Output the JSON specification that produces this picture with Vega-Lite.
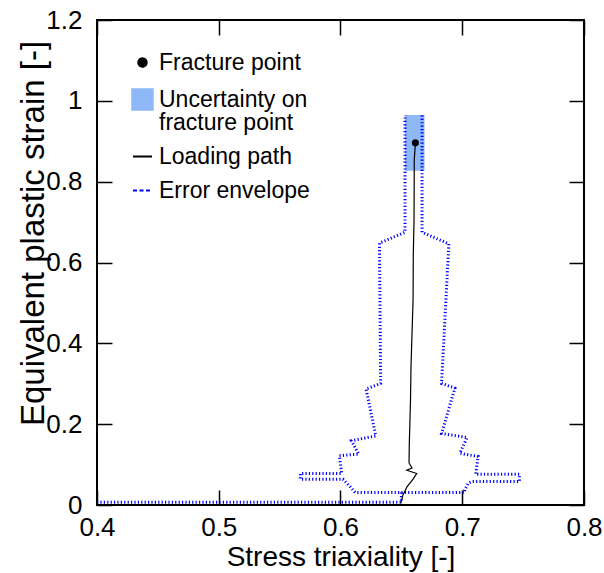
{
  "$schema": "https://vega.github.io/schema/vega-lite/v6.json",
  "width": 487,
  "height": 485,
  "autosize": {"type": "none"},
  "padding": {"left": 97, "top": 20, "right": 20, "bottom": 68},
  "config": {
    "font": "Liberation Sans",
    "view": {"stroke": "black", "strokeWidth": 2},
    "style": {"guide-label": {"lineHeight": 23}},
    "axis": {
      "grid": false,
      "domain": false,
      "tickColor": "black",
      "tickWidth": 1.5,
      "tickSize": -15,
      "labelColor": "black",
      "titleColor": "black",
      "titleFontWeight": "normal",
      "labelFlush": false,
      "labelOverlap": false
    },
    "legend": {
      "orient": "none",
      "legendX": 34,
      "legendY": 31,
      "padding": 0,
      "labelFontSize": 23,
      "labelColor": "black",
      "labelLimit": 300,
      "rowPadding": 10,
      "labelOffset": 5,
      "symbolStrokeWidth": 2,
      "symbolOpacity": 1
    }
  },
  "resolve": {"axis": {"x": "independent", "y": "independent"}},
  "layer": [
    {
      "data": {"values": [{"x": 0.653, "x2": 0.669, "y": 0.827, "y2": 0.965}]},
      "mark": {"type": "rect", "color": "#8fb8f8", "opacity": 1},
      "encoding": {
        "x": {
          "field": "x", "type": "quantitative",
          "scale": {"domain": [0.4, 0.8], "nice": false, "zero": false},
          "axis": {
            "orient": "bottom",
            "values": [0.4, 0.5, 0.6, 0.7, 0.8],
            "format": ".1f",
            "labelFontSize": 26,
            "labelPadding": 24,
            "title": "Stress triaxiality [-]",
            "titleFontSize": 28,
            "titlePadding": 3
          }
        },
        "x2": {"field": "x2"},
        "y": {
          "field": "y", "type": "quantitative",
          "scale": {"domain": [0, 1.2], "nice": false, "zero": false},
          "axis": {
            "orient": "left",
            "values": [0, 0.2, 0.4, 0.6, 0.8, 1, 1.2],
            "format": "~g",
            "labelFontSize": 26,
            "labelPadding": 30,
            "title": "Equivalent plastic strain [-]",
            "titleFontSize": 33,
            "titleX": -64,
            "titleY": 213,
            "titleBaseline": "middle",
            "titleAngle": -90
          }
        },
        "y2": {"field": "y2"}
      }
    },
    {
      "data": {"values": [
        {"side": "L", "i": 0, "x": 0.400, "y": 0.007},
        {"side": "L", "i": 1, "x": 0.650, "y": 0.007},
        {"side": "L", "i": 2, "x": 0.650, "y": 0.031},
        {"side": "L", "i": 3, "x": 0.612, "y": 0.031},
        {"side": "L", "i": 4, "x": 0.608, "y": 0.045},
        {"side": "L", "i": 5, "x": 0.602, "y": 0.064},
        {"side": "L", "i": 6, "x": 0.567, "y": 0.064},
        {"side": "L", "i": 7, "x": 0.567, "y": 0.078},
        {"side": "L", "i": 8, "x": 0.601, "y": 0.078},
        {"side": "L", "i": 9, "x": 0.599, "y": 0.122},
        {"side": "L", "i": 10, "x": 0.615, "y": 0.126},
        {"side": "L", "i": 11, "x": 0.609, "y": 0.159},
        {"side": "L", "i": 12, "x": 0.629, "y": 0.171},
        {"side": "L", "i": 13, "x": 0.621, "y": 0.287},
        {"side": "L", "i": 14, "x": 0.633, "y": 0.301},
        {"side": "L", "i": 15, "x": 0.632, "y": 0.648},
        {"side": "L", "i": 16, "x": 0.653, "y": 0.675},
        {"side": "L", "i": 17, "x": 0.653, "y": 0.965},
        {"side": "R", "i": 0, "x": 0.650, "y": 0.031},
        {"side": "R", "i": 1, "x": 0.702, "y": 0.031},
        {"side": "R", "i": 2, "x": 0.702, "y": 0.037},
        {"side": "R", "i": 3, "x": 0.705, "y": 0.054},
        {"side": "R", "i": 4, "x": 0.708, "y": 0.058},
        {"side": "R", "i": 5, "x": 0.747, "y": 0.058},
        {"side": "R", "i": 6, "x": 0.747, "y": 0.076},
        {"side": "R", "i": 7, "x": 0.711, "y": 0.076},
        {"side": "R", "i": 8, "x": 0.713, "y": 0.120},
        {"side": "R", "i": 9, "x": 0.698, "y": 0.128},
        {"side": "R", "i": 10, "x": 0.704, "y": 0.167},
        {"side": "R", "i": 11, "x": 0.683, "y": 0.177},
        {"side": "R", "i": 12, "x": 0.694, "y": 0.289},
        {"side": "R", "i": 13, "x": 0.683, "y": 0.301},
        {"side": "R", "i": 14, "x": 0.689, "y": 0.646},
        {"side": "R", "i": 15, "x": 0.667, "y": 0.675},
        {"side": "R", "i": 16, "x": 0.667, "y": 0.965}
      ]},
      "mark": {"type": "line", "color": "#0000ff", "strokeWidth": 3, "strokeDash": [1.2, 2.2], "clip": true},
      "encoding": {
        "x": {"field": "x", "type": "quantitative", "scale": {"domain": [0.4, 0.8], "nice": false, "zero": false}, "axis": null},
        "y": {"field": "y", "type": "quantitative", "scale": {"domain": [0, 1.2], "nice": false, "zero": false}, "axis": null},
        "detail": {"field": "side"},
        "order": {"field": "i", "type": "quantitative"}
      }
    },
    {
      "data": {"values": [
        {"i": 0, "x": 0.6495, "y": 0.004},
        {"i": 1, "x": 0.6513, "y": 0.025},
        {"i": 2, "x": 0.6546, "y": 0.045},
        {"i": 3, "x": 0.6596, "y": 0.064},
        {"i": 4, "x": 0.6626, "y": 0.078},
        {"i": 5, "x": 0.6544, "y": 0.086},
        {"i": 6, "x": 0.6587, "y": 0.0915},
        {"i": 7, "x": 0.6563, "y": 0.104},
        {"i": 8, "x": 0.6565, "y": 0.15},
        {"i": 9, "x": 0.6575, "y": 0.26},
        {"i": 10, "x": 0.6579, "y": 0.342},
        {"i": 11, "x": 0.6596, "y": 0.507},
        {"i": 12, "x": 0.6598, "y": 0.623},
        {"i": 13, "x": 0.6604, "y": 0.705},
        {"i": 14, "x": 0.6606, "y": 0.854},
        {"i": 15, "x": 0.6615, "y": 0.896}
      ]},
      "mark": {"type": "line", "color": "black", "strokeWidth": 1.2},
      "encoding": {
        "x": {"field": "x", "type": "quantitative", "scale": {"domain": [0.4, 0.8], "nice": false, "zero": false}, "axis": null},
        "y": {"field": "y", "type": "quantitative", "scale": {"domain": [0, 1.2], "nice": false, "zero": false}, "axis": null},
        "order": {"field": "i", "type": "quantitative"}
      }
    },
    {
      "data": {"values": [{"x": 0.6615, "y": 0.896}]},
      "mark": {"type": "point", "shape": "circle", "filled": true, "color": "black", "size": 50, "opacity": 1},
      "encoding": {
        "x": {
          "field": "x", "type": "quantitative",
          "scale": {"domain": [0.4, 0.8], "nice": false, "zero": false},
          "axis": {"orient": "top", "values": [0.4, 0.5, 0.6, 0.7, 0.8], "labels": false, "title": null}
        },
        "y": {
          "field": "y", "type": "quantitative",
          "scale": {"domain": [0, 1.2], "nice": false, "zero": false},
          "axis": {"orient": "right", "values": [0, 0.2, 0.4, 0.6, 0.8, 1, 1.2], "labels": false, "title": null}
        }
      }
    },
    {
      "data": {"values": [
        {"series": "Fracture point"},
        {"series": "Uncertainty on fracture point"},
        {"series": "Loading path"},
        {"series": "Error envelope"}
      ]},
      "transform": [{"filter": "false"}],
      "mark": {"type": "point", "filled": true, "opacity": 1},
      "encoding": {
        "fill": {
          "field": "series", "type": "nominal",
          "scale": {"domain": ["Fracture point", "Uncertainty on fracture point", "Loading path", "Error envelope"], "range": ["black", "#8fb8f8", "transparent", "transparent"]},
          "legend": {"title": null, "labelExpr": "datum.value == 'Uncertainty on fracture point' ? ['Uncertainty on', 'fracture point'] : datum.value"}
        },
        "stroke": {
          "field": "series", "type": "nominal",
          "scale": {"domain": ["Fracture point", "Uncertainty on fracture point", "Loading path", "Error envelope"], "range": ["black", "#8fb8f8", "black", "#0000ff"]},
          "legend": {"title": null, "labelExpr": "datum.value == 'Uncertainty on fracture point' ? ['Uncertainty on', 'fracture point'] : datum.value"}
        },
        "shape": {
          "field": "series", "type": "nominal",
          "scale": {"domain": ["Fracture point", "Uncertainty on fracture point", "Loading path", "Error envelope"], "range": ["circle", "square", "stroke", "stroke"]},
          "legend": {"title": null, "labelExpr": "datum.value == 'Uncertainty on fracture point' ? ['Uncertainty on', 'fracture point'] : datum.value"}
        },
        "size": {
          "field": "series", "type": "nominal",
          "scale": {"type": "ordinal", "domain": ["Fracture point", "Uncertainty on fracture point", "Loading path", "Error envelope"], "range": [70, 420, 361, 361]},
          "legend": {"title": null, "labelExpr": "datum.value == 'Uncertainty on fracture point' ? ['Uncertainty on', 'fracture point'] : datum.value"}
        },
        "strokeDash": {
          "field": "series", "type": "nominal",
          "scale": {"domain": ["Fracture point", "Uncertainty on fracture point", "Loading path", "Error envelope"], "range": [[1, 0], [1, 0], [1, 0], [4, 2.5]]},
          "legend": {"title": null, "labelExpr": "datum.value == 'Uncertainty on fracture point' ? ['Uncertainty on', 'fracture point'] : datum.value"}
        }
      }
    }
  ]
}
